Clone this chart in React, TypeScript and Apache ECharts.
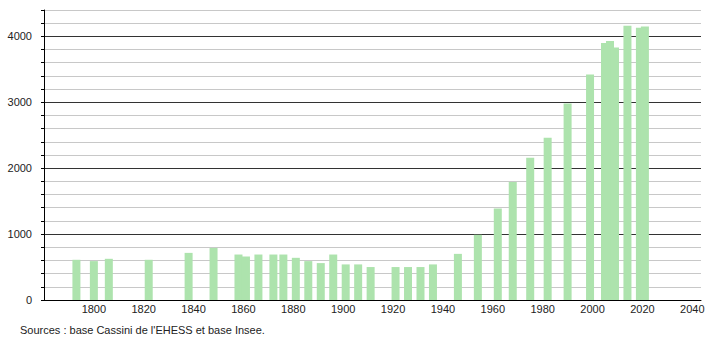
import React, { useEffect, useRef } from "react";
import * as echarts from "echarts";

const years = [
  1793, 1800, 1806, 1822, 1838, 1848, 1858, 1861, 1866, 1872, 1876, 1881, 1886,
  1891, 1896, 1901, 1906, 1911, 1921, 1926, 1931, 1936, 1946, 1954, 1962, 1968,
  1975, 1982, 1990, 1999, 2005, 2007, 2009, 2014, 2019, 2021,
];
const population = [
  610, 590, 625, 610, 715, 790, 690, 660, 690, 690, 690, 640, 590,
  560, 690, 540, 540, 500, 500, 500, 500, 540, 700, 990, 1390, 1790,
  2160, 2460, 2980, 3420, 3900, 3930, 3830, 4160, 4130, 4150,
];
const xTickLabels = [1800, 1820, 1840, 1860, 1880, 1900, 1920, 1940, 1960, 1980, 2000, 2020, 2040];
const yTickLabels = [0, 1000, 2000, 3000, 4000];
const sourceText = "Sources : base Cassini de l'EHESS et base Insee.";

export default function App() {
  const ref = useRef<HTMLDivElement>(null);
  useEffect(() => {
    document.body.style.margin = "0";
    const chart = echarts.init(ref.current!, null, { renderer: "svg" });
    const font = "'Liberation Sans', Arial, sans-serif";
    chart.setOption({
      animation: false,
      backgroundColor: "#ffffff",
      grid: { left: 44, right: 9, top: 10, bottom: 40 },
      xAxis: {
        type: "value",
        min: 1780,
        max: 2043.5,
        interval: 20,
        axisLine: { show: true, onZero: false, lineStyle: { color: "#000", width: 1 } },
        axisTick: { show: false },
        splitLine: { show: false },
        axisLabel: {
          color: "#222",
          fontSize: 11,
          fontFamily: font,
          margin: 3,
          showMinLabel: true,
          showMaxLabel: true,
          formatter: (v: number) => (xTickLabels.includes(Math.round(v)) && Math.abs(v - Math.round(v)) < 1e-6 ? String(Math.round(v)) : ""),
        },
      },
      yAxis: {
        type: "value",
        min: 0,
        max: 4400,
        interval: 200,
        axisLine: { show: true, lineStyle: { color: "#000", width: 1 } },
        axisTick: { show: true, length: 3, lineStyle: { color: "#000" } },
        splitLine: {
          show: true,
          lineStyle: {
            color: ["#333333", "#c8c8c8", "#c8c8c8", "#c8c8c8", "#c8c8c8"],
            width: 1,
          },
        },
        axisLabel: {
          color: "#222",
          fontSize: 11,
          fontFamily: font,
          margin: 12,
          formatter: (v: number) => (yTickLabels.includes(v) ? String(v) : ""),
        },
      },
      series: [
        {
          type: "bar",
          barWidth: 8,
          itemStyle: { color: "#ade3ad" },
          data: years.map((y, i) => [y, population[i]]),
          z: 3,
        },
      ],
      graphic: [
        {
          type: "text",
          left: 20,
          top: 324,
          style: { text: sourceText, fontSize: 11, fontFamily: font, fill: "#222" },
        },
      ],
    });
    return () => chart.dispose();
  }, []);
  return <div ref={ref} style={{ position: "absolute", left: 0, top: 0, width: 710, height: 340 }} />;
}
